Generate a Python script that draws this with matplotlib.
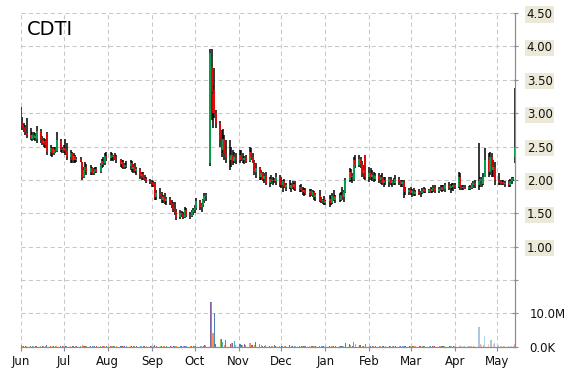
"""CDTI daily candlesticks with volume underneath, Jun 2015 - May 2016."""
import matplotlib
matplotlib.use("Agg")
import matplotlib.pyplot as plt
import matplotlib.dates as mdates
import pandas as pd

DAYS = pd.bdate_range("2015-06-01", "2016-05-13")

OPENS = [
    3.05, 2.85, 2.80, 2.76, 2.70, 2.68, 2.62, 2.68, 2.63, 2.62, 2.74, 2.60, 2.56, 2.59, 2.70, 2.42, 2.48, 2.40, 2.46, 2.44, 2.58, 2.46,
    2.45, 2.48, 2.44, 2.35, 2.40, 2.30, 2.36, 2.30, 2.32, 2.27, 2.05, 2.15, 2.20, 2.12, 2.18, 2.10, 2.14, 2.16, 2.12, 2.22, 2.28, 2.25, 2.36,
    2.33, 2.38, 2.34, 2.36, 2.32, 2.30, 2.24, 2.27, 2.20, 2.23, 2.21, 2.25, 2.16, 2.20, 2.14, 2.17, 2.06, 2.09, 2.03, 2.02, 1.99,
    1.97, 1.95, 1.96, 1.74, 1.80, 1.76, 1.70, 1.74, 1.68, 1.71, 1.66, 1.62, 1.56, 1.52, 1.45, 1.50, 1.47, 1.45, 1.55, 1.48, 1.46, 1.52,
    1.55, 1.58, 1.68, 1.60, 1.63, 1.70, 1.76, 2.25, 3.69, 3.30, 3.35, 3.00, 2.85, 2.60, 2.45, 2.62, 2.40, 2.35, 2.30, 2.38, 2.28, 2.34,
    2.30, 2.38, 2.32, 2.30, 2.33, 2.28, 2.42, 2.35, 2.28, 2.12, 2.18, 2.05, 2.10, 2.02, 2.06, 1.96, 2.02, 1.98, 2.00, 1.98, 2.05,
    1.95, 1.92, 1.98, 1.90, 1.93, 1.88, 1.92, 1.90, 1.94, 1.87, 1.90, 1.85, 1.82, 1.85, 1.80, 1.83, 1.78, 1.82, 1.74, 1.78, 1.70, 1.68, 1.70,
    1.66, 1.68, 1.72, 1.66, 1.76, 1.70, 1.74, 1.70, 1.78, 1.74, 1.82, 2.00, 2.12, 2.04, 2.00, 2.30, 2.22, 2.32, 2.24, 2.10, 2.37,
    2.05, 2.10, 2.04, 2.08, 2.02, 2.06, 2.00, 2.04, 1.96, 2.00, 1.97, 2.01, 1.95, 1.98, 1.96, 2.02, 1.98, 1.94, 1.97, 1.85, 1.82,
    1.85, 1.80, 1.83, 1.79, 1.82, 1.80, 1.81, 1.84, 1.86, 1.82, 1.85, 1.83, 1.86, 1.88, 1.84, 1.87, 1.85, 1.90, 1.86, 1.92, 1.88, 1.91, 1.89,
    1.92, 1.90, 2.05, 1.90, 1.88, 1.90, 1.87, 1.89, 1.88, 1.92, 1.95, 1.93, 1.98, 2.02, 1.94, 2.05, 2.30, 2.12, 2.35, 2.15, 2.20,
    2.00, 1.98, 1.95, 1.97, 1.94, 1.96, 1.93, 1.98, 2.02, 2.35,
]
HIGHS = [
    3.09, 2.95, 2.86, 2.82, 2.93, 2.78, 2.72, 2.72, 2.70, 2.81, 2.76, 2.66, 2.63, 2.62, 2.72, 2.52, 2.50, 2.49, 2.50, 2.72, 2.62, 2.50,
    2.52, 2.61, 2.55, 2.45, 2.42, 2.40, 2.38, 2.34, 2.34, 2.27, 2.20, 2.27, 2.24, 2.22, 2.20, 2.18, 2.20, 2.20, 2.25, 2.32, 2.35, 2.40, 2.42,
    2.42, 2.40, 2.38, 2.40, 2.38, 2.32, 2.30, 2.30, 2.26, 2.28, 2.30, 2.28, 2.24, 2.25, 2.20, 2.18, 2.12, 2.12, 2.08, 2.05, 2.02,
    2.00, 1.98, 1.97, 1.85, 1.88, 1.82, 1.78, 1.80, 1.74, 1.74, 1.70, 1.67, 1.67, 1.56, 1.55, 1.54, 1.52, 1.60, 1.58, 1.52, 1.55, 1.58,
    1.62, 1.73, 1.70, 1.66, 1.72, 1.80, 1.80, 3.96, 3.96, 3.42, 3.68, 3.05, 2.88, 2.75, 2.77, 2.67, 2.60, 2.60, 2.50, 2.45, 2.42, 2.40,
    2.45, 2.45, 2.40, 2.36, 2.38, 2.50, 2.48, 2.40, 2.30, 2.25, 2.20, 2.15, 2.12, 2.10, 2.12, 2.05, 2.08, 2.04, 2.03, 2.10, 2.08,
    2.04, 2.00, 2.02, 1.96, 2.00, 1.95, 1.98, 1.96, 1.98, 1.93, 1.94, 1.90, 1.88, 1.88, 1.86, 1.87, 1.85, 1.84, 1.80, 1.85, 1.74, 1.72, 1.76,
    1.70, 1.78, 1.76, 1.80, 1.85, 1.78, 1.80, 1.82, 1.90, 1.85, 2.03, 2.18, 2.16, 2.10, 2.34, 2.37, 2.37, 2.35, 2.28, 2.22, 2.37,
    2.20, 2.18, 2.15, 2.12, 2.10, 2.10, 2.08, 2.10, 2.05, 2.05, 2.04, 2.05, 2.00, 2.03, 2.07, 2.05, 2.00, 2.00, 2.00, 1.90, 1.88,
    1.90, 1.86, 1.88, 1.85, 1.86, 1.84, 1.88, 1.90, 1.88, 1.87, 1.90, 1.88, 1.93, 1.92, 1.90, 1.92, 1.93, 1.92, 1.95, 1.97, 1.94, 1.96, 1.95,
    1.96, 2.12, 2.10, 1.92, 1.92, 1.92, 1.91, 1.92, 1.95, 1.98, 2.00, 2.55, 2.05, 2.05, 2.10, 2.48, 2.40, 2.42, 2.40, 2.30, 2.27,
    2.10, 2.00, 2.00, 2.00, 1.98, 2.00, 2.02, 2.04, 2.05, 3.38,
]
LOWS = [
    2.80, 2.75, 2.72, 2.68, 2.63, 2.60, 2.58, 2.60, 2.58, 2.55, 2.56, 2.52, 2.50, 2.48, 2.37, 2.36, 2.34, 2.38, 2.40, 2.42, 2.42, 2.40,
    2.40, 2.38, 2.30, 2.25, 2.25, 2.26, 2.25, 2.27, 2.27, 2.00, 2.03, 2.10, 2.08, 2.07, 2.08, 2.07, 2.10, 2.10, 2.10, 2.18, 2.20, 2.22, 2.28,
    2.28, 2.30, 2.28, 2.30, 2.25, 2.20, 2.18, 2.17, 2.17, 2.18, 2.15, 2.12, 2.10, 2.10, 2.08, 2.02, 2.00, 2.00, 1.98, 1.96, 1.94,
    1.90, 1.90, 1.70, 1.70, 1.72, 1.66, 1.65, 1.64, 1.63, 1.62, 1.58, 1.52, 1.48, 1.40, 1.42, 1.44, 1.42, 1.43, 1.45, 1.42, 1.44, 1.48,
    1.50, 1.55, 1.55, 1.52, 1.60, 1.65, 1.68, 2.21, 2.90, 2.78, 2.93, 2.78, 2.50, 2.35, 2.40, 2.30, 2.25, 2.15, 2.20, 2.22, 2.25, 2.24,
    2.25, 2.28, 2.25, 2.24, 2.25, 2.27, 2.30, 2.25, 2.08, 2.03, 2.00, 2.00, 1.98, 1.95, 1.92, 1.90, 1.94, 1.92, 1.95, 1.93, 1.90,
    1.88, 1.82, 1.88, 1.84, 1.86, 1.82, 1.86, 1.85, 1.84, 1.82, 1.82, 1.78, 1.76, 1.77, 1.75, 1.76, 1.74, 1.70, 1.68, 1.67, 1.65, 1.64, 1.62,
    1.62, 1.60, 1.62, 1.64, 1.68, 1.66, 1.67, 1.68, 1.70, 1.67, 1.80, 1.97, 1.98, 1.95, 1.98, 2.18, 2.20, 2.18, 2.05, 2.02, 2.00,
    1.97, 2.00, 1.98, 1.97, 1.98, 1.95, 1.94, 1.92, 1.90, 1.92, 1.90, 1.92, 1.90, 1.92, 1.93, 1.93, 1.90, 1.90, 1.73, 1.78, 1.77,
    1.78, 1.75, 1.76, 1.76, 1.77, 1.75, 1.79, 1.80, 1.80, 1.80, 1.81, 1.80, 1.82, 1.80, 1.81, 1.83, 1.82, 1.84, 1.82, 1.85, 1.80, 1.85, 1.84,
    1.86, 1.88, 1.85, 1.85, 1.85, 1.86, 1.85, 1.85, 1.86, 1.88, 1.88, 1.85, 1.90, 1.90, 1.92, 2.05, 2.05, 2.08, 2.05, 2.05, 1.93,
    1.93, 1.93, 1.93, 1.92, 1.90, 1.90, 1.90, 1.94, 1.98, 2.25,
]
CLOSES = [
    2.85, 2.80, 2.76, 2.72, 2.68, 2.64, 2.68, 2.63, 2.66, 2.74, 2.60, 2.56, 2.59, 2.52, 2.42, 2.48, 2.40, 2.46, 2.44, 2.60, 2.46, 2.45,
    2.48, 2.44, 2.35, 2.40, 2.30, 2.36, 2.30, 2.32, 2.29, 2.05, 2.15, 2.20, 2.12, 2.18, 2.10, 2.14, 2.16, 2.12, 2.22, 2.28, 2.25, 2.36, 2.33,
    2.38, 2.34, 2.36, 2.32, 2.30, 2.24, 2.27, 2.20, 2.23, 2.21, 2.25, 2.16, 2.20, 2.14, 2.17, 2.06, 2.09, 2.03, 2.02, 1.99, 1.97,
    1.95, 1.93, 1.74, 1.80, 1.76, 1.70, 1.74, 1.68, 1.71, 1.66, 1.62, 1.56, 1.52, 1.45, 1.50, 1.47, 1.45, 1.55, 1.48, 1.46, 1.52, 1.55,
    1.58, 1.68, 1.60, 1.63, 1.70, 1.76, 1.78, 3.90, 3.32, 3.00, 3.00, 2.85, 2.60, 2.45, 2.62, 2.40, 2.35, 2.30, 2.38, 2.28, 2.34, 2.30,
    2.38, 2.32, 2.30, 2.33, 2.28, 2.42, 2.35, 2.28, 2.12, 2.18, 2.05, 2.10, 2.02, 2.06, 1.96, 2.02, 1.98, 2.00, 1.98, 2.05, 1.95,
    1.92, 1.98, 1.90, 1.93, 1.88, 1.92, 1.90, 1.94, 1.87, 1.90, 1.85, 1.82, 1.85, 1.80, 1.83, 1.78, 1.82, 1.74, 1.78, 1.70, 1.68, 1.70, 1.66,
    1.68, 1.72, 1.66, 1.76, 1.70, 1.74, 1.70, 1.78, 1.74, 1.82, 2.00, 2.12, 2.04, 2.06, 2.30, 2.22, 2.32, 2.24, 2.10, 2.15, 2.05,
    2.10, 2.04, 2.08, 2.02, 2.06, 2.00, 2.04, 1.96, 2.00, 1.97, 2.01, 1.95, 1.98, 1.96, 2.02, 1.98, 1.94, 1.97, 1.85, 1.82, 1.85,
    1.80, 1.83, 1.79, 1.82, 1.80, 1.81, 1.84, 1.86, 1.82, 1.85, 1.83, 1.86, 1.88, 1.84, 1.87, 1.85, 1.90, 1.86, 1.92, 1.88, 1.91, 1.89, 1.92,
    1.90, 2.05, 1.90, 1.88, 1.90, 1.87, 1.89, 1.88, 1.92, 1.95, 1.93, 1.98, 2.02, 1.94, 2.05, 2.30, 2.12, 2.35, 2.15, 2.20, 2.00,
    1.98, 1.95, 1.97, 1.94, 1.96, 1.93, 1.98, 2.02, 2.03, 2.50,
]
# volume in millions of shares
VOLUMES = [
    0.5, 0.4, 0.3, 0.3, 0.4, 0.3, 0.2, 0.3, 0.2, 0.4, 0.3, 0.2, 0.3, 0.2, 0.5, 0.3, 0.3, 0.2, 0.2, 0.4, 0.3, 0.2,
    0.2, 0.3, 0.3, 0.2, 0.3, 0.2, 0.2, 0.2, 0.2, 0.5, 0.3, 0.3, 0.2, 0.2, 0.2, 0.2, 0.2, 0.2, 0.3, 0.3, 0.2, 0.4, 0.3,
    0.3, 0.2, 0.2, 0.2, 0.2, 0.3, 0.2, 0.2, 0.2, 0.2, 0.3, 0.2, 0.2, 0.2, 0.2, 0.3, 0.2, 0.2, 0.2, 0.2, 0.2,
    0.2, 0.2, 0.5, 0.3, 0.2, 0.3, 0.2, 0.2, 0.2, 0.2, 0.3, 0.3, 0.3, 0.4, 0.3, 0.2, 0.2, 0.3, 0.2, 0.2, 0.2, 0.3,
    0.3, 0.4, 0.3, 0.3, 0.4, 0.5, 0.5, 13.3, 13.3, 4.1, 10.0, 0.8, 2.3, 2.4, 1.6, 0.6, 2.0, 0.8, 1.3, 1.2, 1.8, 0.6,
    0.8, 0.7, 0.6, 0.8, 0.5, 1.2, 0.6, 0.5, 0.6, 1.5, 0.9, 0.5, 0.4, 0.4, 0.5, 0.4, 0.3, 0.4, 0.6, 0.4, 0.3,
    0.4, 0.3, 0.3, 0.3, 0.5, 0.3, 0.3, 0.2, 0.3, 0.3, 0.3, 0.2, 0.3, 0.2, 0.3, 0.2, 0.2, 0.3, 0.2, 0.2, 0.3, 0.2, 0.2,
    0.2, 0.3, 0.2, 0.3, 0.2, 0.2, 0.2, 0.3, 0.3, 0.4, 1.2, 0.8, 0.5, 0.4, 1.5, 0.8, 0.6, 0.5, 0.4, 0.4, 0.8,
    0.6, 0.4, 0.3, 0.3, 0.3, 0.3, 0.2, 0.3, 0.3, 0.2, 0.2, 0.3, 0.2, 0.2, 0.3, 0.2, 0.2, 0.2, 0.4, 0.3, 0.2,
    0.2, 0.2, 0.2, 0.2, 0.2, 0.2, 0.2, 0.2, 0.3, 0.2, 0.2, 0.2, 0.2, 0.3, 0.2, 0.2, 0.2, 0.3, 0.2, 0.3, 0.2, 0.2, 0.2,
    0.2, 0.6, 0.4, 0.2, 0.2, 0.2, 0.2, 0.2, 0.3, 0.3, 0.3, 6.0, 0.8, 0.5, 0.7, 3.2, 0.9, 2.0, 2.0, 0.8, 1.2,
    0.5, 0.3, 0.3, 0.3, 0.3, 0.3, 0.3, 0.4, 0.3, 1.0,
]

PRICE_TICKS = [0.5, 1.0, 1.5, 2.0, 2.5, 3.0, 3.5, 4.0, 4.5]
PRICE_LABELS = ["", "1.00", "1.50", "2.00", "2.50", "3.00", "3.50", "4.00", "4.50"]
VOL_TICKS = [0, 10]
VOL_LABELS = ["0.0K", "10.0M"]

UP, DOWN, WICK = "#00b050", "#ff0000", "#000000"
GRID, AXIS, LABEL_BG = "#c8c8c8", "#8c8c8c", "#ece9d8"
VOL_PALETTE = ["#4f81bd", "#c0504d", "#9bbb59", "#8064a2", "#4bacc6", "#f79646"]
DASH = (0, (4, 3))

plt.rcParams.update({"font.family": "DejaVu Sans", "font.size": 8.5})

fig = plt.figure(figsize=(5.7, 3.7), dpi=100)
ax = fig.add_axes([21 / 570, 1 - 347 / 370, 494 / 570, 334 / 370])
axv = ax.twinx()

x = mdates.date2num(DAYS.to_pydatetime())
body_col = [UP if c >= o else DOWN for o, c in zip(OPENS, CLOSES)]
ax.vlines(x, LOWS, HIGHS, color=WICK, lw=1.1, zorder=3)
ax.vlines(x, OPENS, CLOSES, colors=body_col, lw=1.2, zorder=4)

# the spring bars come out washed-out in the original
late = mdates.datestr2num("2016-04-01")
vcol = [VOL_PALETTE[(i + 4) % 6] for i in range(len(x))]
valpha = [0.45 if xi >= late else 1.0 for xi in x]
for xi, v, c, a in zip(x, VOLUMES, vcol, valpha):
    axv.bar(xi, v, width=0.75, color=c, alpha=a, linewidth=0, zorder=3)

ax.set_xlim(mdates.datestr2num("2015-06-01"), mdates.datestr2num("2016-05-13 08:00"))
ax.set_ylim(-0.5, 4.5)
axv.set_ylim(0, 98.2)

# gridlines
for yv in PRICE_TICKS:
    ax.axhline(yv, color=GRID, lw=0.75, ls=DASH, zorder=1)
axv.axhline(10, color=GRID, lw=0.75, ls=DASH, zorder=1)
ax.xaxis.set_major_locator(mdates.MonthLocator())
ax.xaxis.set_major_formatter(mdates.DateFormatter("%b"))
ax.grid(axis="x", color=GRID, lw=0.75, ls=DASH)
ax.set_axisbelow(True)

for a in (ax, axv):
    for s in ("top", "left"):
        a.spines[s].set_visible(False)
    a.spines["right"].set_color(AXIS)
    a.spines["bottom"].set_color(AXIS)

ax.yaxis.tick_right()
ax.set_yticks(PRICE_TICKS)
ax.set_yticklabels(PRICE_LABELS)
ax.tick_params(axis="y", direction="inout", length=5, color=AXIS, pad=6, labelcolor="#101010")
for t in ax.get_yticklabels():
    t.set_bbox(dict(facecolor=LABEL_BG, edgecolor="none", pad=1.2))
axv.set_yticks(VOL_TICKS)
axv.set_yticklabels(VOL_LABELS)
axv.tick_params(axis="y", direction="inout", length=5, color=AXIS, pad=8, labelcolor="#101010")
ax.tick_params(axis="x", direction="out", length=3, color=AXIS, pad=3, labelcolor="#101010")

fig.text(27 / 570, 1 - 20 / 370, "CDTI", fontsize=14, va="top", ha="left", color="#000000")

fig.savefig("out.png", dpi=100)
